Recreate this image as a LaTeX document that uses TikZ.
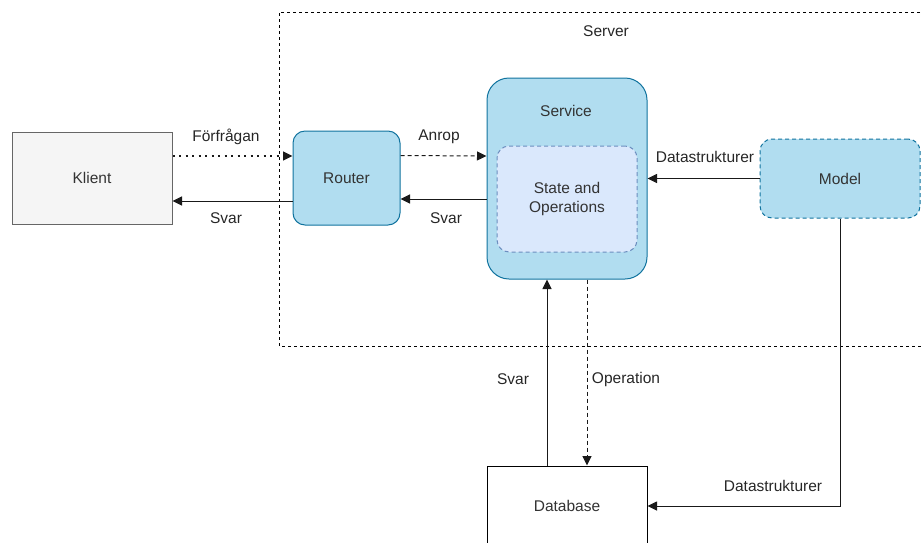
\documentclass[tikz,border=0pt]{standalone}
\usepackage{fontspec}
\setmainfont{Liberation Sans}
\usetikzlibrary{arrows.meta}

\definecolor{boxfill}{HTML}{B1DDF0}
\definecolor{boxline}{HTML}{10739E}
\definecolor{innerfill}{HTML}{DAE8FC}
\definecolor{innerline}{HTML}{6C8EBF}
\definecolor{greyfill}{HTML}{F5F5F5}
\definecolor{greyline}{HTML}{666666}
\definecolor{txt}{HTML}{333333}

\begin{document}
\begin{tikzpicture}[x=1pt,y=-1pt,
  every node/.style={font=\fontsize{15.5}{18.5}\selectfont, text=txt},
  blk/.style={draw, line width=1pt, align=center, inner sep=0pt},
  bluebox/.style={blk, fill=boxfill, draw=boxline},
  lbl/.style={inner sep=1pt, text=black!85},
  conn/.style={line width=1pt, draw=black!90, -{Triangle[length=9.5pt,width=9pt]}},
  dotline/.style={conn, line width=1.3pt, dash pattern=on 2pt off 4.5pt},
  dashline/.style={conn, dash pattern=on 4pt off 3pt},
  dashbox/.style={dash pattern=on 4pt off 3pt}
]
\useasboundingbox (0,0) rectangle (923,542);

% server boundary (open to the right)
\draw[line width=1pt, dash pattern=on 3pt off 3pt]
  (926,12) -- (279,12) -- (279,346) -- (926,346);
\node[lbl] (serverlbl) at (606,31) {Server};

% components
\node[blk, fill=greyfill, draw=greyline, minimum width=160pt, minimum height=92pt]
  (klient) at (92,178) {Klient};
\node[bluebox, rounded corners=12pt, minimum width=107pt, minimum height=94pt]
  (router) at (346.5,178) {Router};
\node[bluebox, rounded corners=22pt, minimum width=160pt, minimum height=201pt]
  (service) at (567,178.5) {};
\node[lbl, text=txt] (servicelbl) at (566,111) {Service};
\node[blk, dashbox, fill=innerfill, draw=innerline, rounded corners=12pt,
  minimum width=140pt, minimum height=106pt]
  (state) at (567,199) {State and\\Operations};
\node[bluebox, dashbox, rounded corners=12pt, minimum width=160pt, minimum height=79pt]
  (model) at (840,178.5) {Model};
\node[blk, fill=white, draw=black, minimum width=160pt, minimum height=80pt]
  (db) at (567,506) {Database};

% connectors
\draw[dotline] ([yshift=22pt]klient.east) -- ([yshift=22pt]router.west);
\draw[conn] ([yshift=-23pt]router.west) -- ([yshift=-23pt]klient.east);
\draw[dashline] ([yshift=22.5pt]router.east) -- ([yshift=22.5pt]service.west);
\draw[conn] ([yshift=-20.5pt]service.west) -- ([yshift=-21pt]router.east);
\draw[conn] (model.west) -- (service.east);
\draw[conn] ([xshift=-20pt]db.north) -- ([xshift=-20pt]service.south);
\draw[dashline] ([xshift=20pt]service.south) -- ([xshift=20pt]db.north);
\draw[conn] (model.south) |- (db.east);

% connector labels
\node[lbl] (l1) at (226,137) {Förfrågan};
\node[lbl] (l2) at (226,218) {Svar};
\node[lbl] (l3) at (439,137) {Anrop};
\node[lbl] (l4) at (446,218) {Svar};
\node[lbl] (l5) at (705,157) {Datastrukturer};
\node[lbl] (l6) at (513,379) {Svar};
\node[lbl] (l7) at (626,379) {Operation};
\node[lbl] (l8) at (773,486) {Datastrukturer};
\end{tikzpicture}
\end{document}
